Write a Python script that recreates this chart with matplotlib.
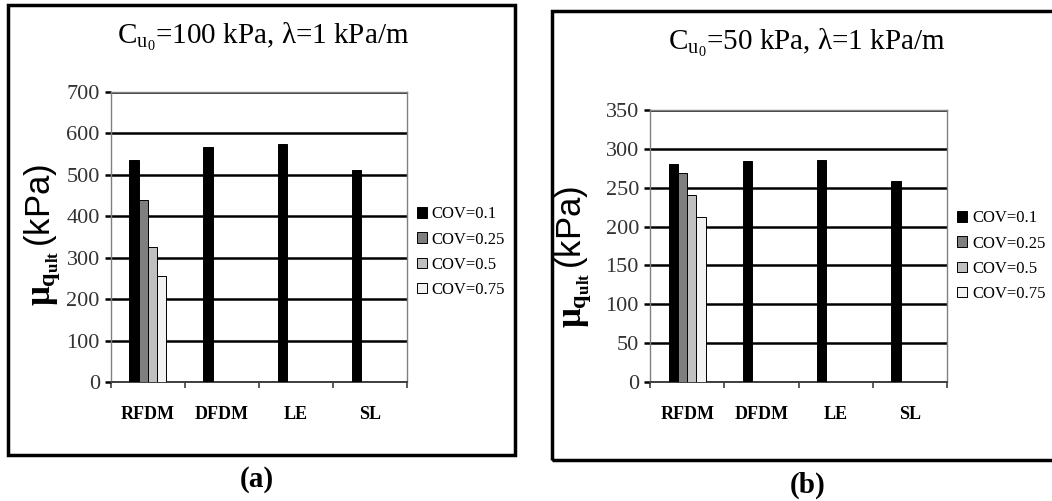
import matplotlib
matplotlib.use("Agg")
from matplotlib import pyplot as plt
from matplotlib.patches import Rectangle, Patch
import numpy as np

plt.rcParams['font.family'] = ['Liberation Serif', 'DejaVu Serif']
plt.rcParams['mathtext.fontset'] = 'custom'
plt.rcParams['mathtext.rm'] = 'Liberation Serif'
plt.rcParams['mathtext.it'] = 'Liberation Serif:italic'
plt.rcParams['mathtext.bf'] = 'Liberation Serif:bold'
plt.rcParams['mathtext.sf'] = 'Liberation Sans'

methods = ["RFDM", "DFDM", "LE", "SL"]
cov_labels = ["COV=0.1", "COV=0.25", "COV=0.5", "COV=0.75"]
colors = ["#000000", "#7f7f7f", "#c0c0c0", "#f2f2f2"]

# panel (a): Cu0 = 100 kPa
q_a = [
    [535, 567, 575, 512],
    [440, np.nan, np.nan, np.nan],
    [325, np.nan, np.nan, np.nan],
    [255, np.nan, np.nan, np.nan],
]
# panel (b): Cu0 = 50 kPa
q_b = [
    [280, 284, 286, 258],
    [269, np.nan, np.nan, np.nan],
    [240, np.nan, np.nan, np.nan],
    [212, np.nan, np.nan, np.nan],
]

fig = plt.figure(figsize=(10.52, 5.01), dpi=100)


def draw_panel(rect, data, ymax, ystep, title, title_xy, tag, tag_xy, ylab_xy, leg_xy):
    ax = fig.add_axes(rect)
    x = np.arange(len(methods))
    w = 0.125
    for i, vals in enumerate(data):
        ax.bar(x + (i - 1.5) * w, vals, w, color=colors[i], edgecolor="black",
               linewidth=0.7, zorder=3)
    ax.set_xlim(-0.5, 3.5)
    ax.set_ylim(0, ymax)
    ax.set_yticks(np.arange(0, ymax + 1, ystep))
    ax.yaxis.grid(True, color="black", linewidth=1.8, zorder=1)
    ax.set_axisbelow(True)
    ax.set_xticks(x)
    ax.set_xticklabels(methods, fontweight="bold", fontsize=13)
    ax.set_xticks(np.arange(-0.5, 4, 1), minor=True)
    ax.tick_params(axis="x", which="major", length=0, pad=17)
    ax.tick_params(axis="x", which="minor", length=4, width=1.2, color="#404040", direction="out")
    ax.tick_params(axis="y", length=4, width=1.8, color="black", labelsize=16,
                   labelcolor="#333333", pad=4)
    for s in ["top", "right", "left"]:
        ax.spines[s].set_color("#808080")
        ax.spines[s].set_linewidth(1.0)
    ax.spines["bottom"].set_color("#404040")
    ax.spines["bottom"].set_linewidth(1.4)

    fig.text(title_xy[0], title_xy[1], title, ha="center", va="center", fontsize=21)
    fig.text(tag_xy[0], tag_xy[1], tag, ha="center", va="center", fontsize=21, fontweight="bold")
    fig.text(ylab_xy[0], ylab_xy[1],
             r"$\mathbf{\mu}_{\mathbf{q}_{\mathbf{ult}}}\,\mathsf{(kPa)}$",
             rotation=90, ha="center", va="center", fontsize=25)

    handles = [Patch(facecolor=c, edgecolor="black", linewidth=0.7) for c in colors]
    fig.legend(handles, cov_labels, loc="upper left", bbox_to_anchor=leg_xy,
               frameon=False, fontsize=12, handlelength=0.6, handleheight=0.6,
               handletextpad=0.3, labelspacing=0.55, borderpad=0, borderaxespad=0)
    return ax


draw_panel([0.1055, 0.2375, 0.2814, 0.579], q_a, 700, 100,
           r"C$_{\mathrm{u}_0}$=100 kPa, λ=1 kPa/m", (0.25, 0.926),
           "(a)", (0.244, 0.042), (0.040, 0.531), (0.396, 0.588))
draw_panel([0.6179, 0.2375, 0.2823, 0.543], q_b, 350, 50,
           r"C$_{\mathrm{u}_0}$=50 kPa, λ=1 kPa/m", (0.767, 0.914),
           "(b)", (0.768, 0.032), (0.545, 0.487), (0.910, 0.580))

# outer frames around each panel
fig.add_artist(Rectangle((0.0076, 0.0918), 0.482, 0.898, transform=fig.transFigure,
                         fill=False, linewidth=2.5, edgecolor="black"))
fig.add_artist(Rectangle((0.5247, 0.0818), 0.48, 0.896, transform=fig.transFigure,
                         fill=False, linewidth=2.5, edgecolor="black"))

fig.savefig("out.png", dpi=100)
